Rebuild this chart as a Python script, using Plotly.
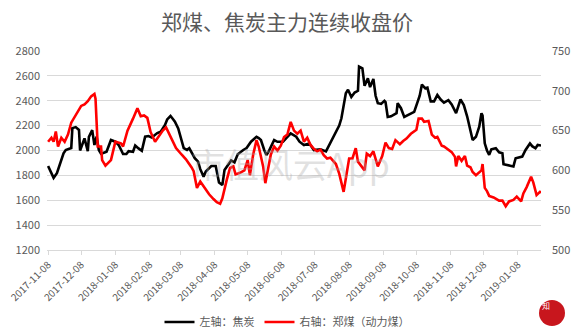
import plotly.graph_objects as go

title_text = "郑煤、焦炭主力连续收盘价"
coke_name = "左轴：焦炭"
coal_name = "右轴：郑煤（动力煤）"

coke_dates = [
    "2017-11-08", "2017-11-11", "2017-11-13", "2017-11-16", "2017-11-19", "2017-11-22", "2017-11-24", "2017-11-27",
    "2017-11-29", "2017-11-30", "2017-12-03", "2017-12-06", "2017-12-07", "2017-12-11", "2017-12-14", "2017-12-15",
    "2017-12-18", "2017-12-20", "2017-12-22", "2017-12-24", "2017-12-26", "2017-12-28", "2017-12-31", "2018-01-04",
    "2018-01-08", "2018-01-11", "2018-01-15", "2018-01-18", "2018-01-20", "2018-01-24", "2018-01-26", "2018-01-29",
    "2018-02-01", "2018-02-04", "2018-02-07", "2018-02-10", "2018-02-15", "2018-02-18", "2018-02-22", "2018-02-24",
    "2018-02-27", "2018-03-01", "2018-03-03", "2018-03-06", "2018-03-09", "2018-03-11", "2018-03-14", "2018-03-16",
    "2018-03-19", "2018-03-21", "2018-03-24", "2018-03-26", "2018-03-29", "2018-03-31", "2018-04-05", "2018-04-09",
    "2018-04-12", "2018-04-15", "2018-04-17", "2018-04-20", "2018-04-23", "2018-04-26", "2018-04-29", "2018-05-04",
    "2018-05-07", "2018-05-11", "2018-05-16", "2018-05-18", "2018-05-20", "2018-05-23", "2018-05-25", "2018-05-27",
    "2018-06-01", "2018-06-04", "2018-06-09", "2018-06-12", "2018-06-16", "2018-06-21", "2018-06-24", "2018-06-28",
    "2018-07-03", "2018-07-07", "2018-07-13", "2018-07-18", "2018-07-21", "2018-07-25", "2018-07-30", "2018-08-01",
    "2018-08-03", "2018-08-05", "2018-08-07", "2018-08-10", "2018-08-13", "2018-08-16", "2018-08-17", "2018-08-20",
    "2018-08-22", "2018-08-25", "2018-08-27", "2018-08-30", "2018-09-01", "2018-09-03", "2018-09-06", "2018-09-09",
    "2018-09-10", "2018-09-12", "2018-09-15", "2018-09-20", "2018-09-21", "2018-09-24", "2018-09-27", "2018-10-01",
    "2018-10-06", "2018-10-11", "2018-10-13", "2018-10-16", "2018-10-18", "2018-10-21", "2018-10-24", "2018-10-27",
    "2018-10-30", "2018-11-02", "2018-11-06", "2018-11-09", "2018-11-13", "2018-11-17", "2018-11-20", "2018-11-23",
    "2018-11-26", "2018-11-28", "2018-12-01", "2018-12-04", "2018-12-06", "2018-12-07", "2018-12-09", "2018-12-11",
    "2018-12-13", "2018-12-15", "2018-12-19", "2018-12-22", "2018-12-25", "2018-12-26", "2019-01-01", "2019-01-04",
    "2019-01-06", "2019-01-09", "2019-01-12", "2019-01-15", "2019-01-19", "2019-01-21", "2019-01-24", "2019-01-26",
    "2019-01-29",
]
coke_values = [
    1875, 1820, 1780, 1817, 1897, 1977, 2004, 2012,
    2020, 2180, 2188, 2165, 2000, 2097, 1995, 2110,
    2164, 2044, 2111, 2004, 1975, 1980, 1990, 2085,
    2071, 2044, 1972, 1972, 1995, 1990, 2040, 2017,
    1998, 2111, 2116, 2105, 2140, 2150, 2205, 2250,
    2277, 2255, 2232, 2178, 2085, 2020, 2005, 2018,
    1970, 1938, 1911, 1850, 1790, 1831, 1875, 1875,
    1743, 1722, 1844, 1880, 1920, 1905, 1970, 2004,
    2020, 2071, 2110, 2100, 2084, 2004, 1964, 1991,
    2084, 2070, 2071, 2100, 2138, 2111, 2071, 2044,
    2057, 2004, 2010, 1993, 2044, 2120, 2200, 2259,
    2380, 2460, 2488, 2430, 2466, 2480, 2675, 2660,
    2520, 2580, 2510, 2575, 2440, 2380, 2375, 2400,
    2390, 2270, 2275, 2300, 2380, 2340, 2270, 2285,
    2310, 2440, 2530, 2500, 2505, 2395, 2395, 2446,
    2410, 2385, 2405, 2370, 2300, 2410, 2365, 2275,
    2165, 2085, 2110, 2192, 2300, 2280, 2058, 2000,
    1965, 2010, 2018, 1985, 1978, 1890, 1878, 1872,
    1938, 1945, 1951, 2004, 2057, 2035, 2018, 2044,
    2040,
]

coal_dates = [
    "2017-11-08", "2017-11-11", "2017-11-13", "2017-11-15", "2017-11-17", "2017-11-20", "2017-11-23", "2017-11-26",
    "2017-11-29", "2017-12-02", "2017-12-05", "2017-12-08", "2017-12-11", "2017-12-14", "2017-12-17", "2017-12-20",
    "2017-12-21", "2017-12-23", "2017-12-26", "2017-12-27", "2017-12-30", "2018-01-04", "2018-01-08", "2018-01-13",
    "2018-01-15", "2018-01-19", "2018-01-24", "2018-01-28", "2018-01-31", "2018-02-03", "2018-02-06", "2018-02-09",
    "2018-02-13", "2018-02-17", "2018-02-20", "2018-02-23", "2018-02-26", "2018-02-28", "2018-03-04", "2018-03-09",
    "2018-03-13", "2018-03-18", "2018-03-20", "2018-03-23", "2018-03-26", "2018-03-29", "2018-04-03", "2018-04-07",
    "2018-04-10", "2018-04-13", "2018-04-15", "2018-04-19", "2018-04-22", "2018-04-25", "2018-04-27", "2018-05-01",
    "2018-05-05", "2018-05-08", "2018-05-10", "2018-05-13", "2018-05-16", "2018-05-18", "2018-05-22", "2018-05-24",
    "2018-05-26", "2018-05-29", "2018-06-01", "2018-06-04", "2018-06-07", "2018-06-10", "2018-06-13", "2018-06-16",
    "2018-06-19", "2018-06-22", "2018-06-25", "2018-06-28", "2018-07-01", "2018-07-04", "2018-07-07", "2018-07-10",
    "2018-07-13", "2018-07-16", "2018-07-19", "2018-07-22", "2018-07-27", "2018-07-30", "2018-08-03", "2018-08-05",
    "2018-08-08", "2018-08-11", "2018-08-14", "2018-08-16", "2018-08-19", "2018-08-22", "2018-08-24", "2018-08-27",
    "2018-08-30", "2018-09-03", "2018-09-07", "2018-09-10", "2018-09-13", "2018-09-16", "2018-09-19", "2018-09-23",
    "2018-09-26", "2018-09-29", "2018-10-03", "2018-10-08", "2018-10-10", "2018-10-13", "2018-10-15", "2018-10-19",
    "2018-10-22", "2018-10-25", "2018-10-27", "2018-10-31", "2018-11-02", "2018-11-06", "2018-11-09", "2018-11-12",
    "2018-11-13", "2018-11-15", "2018-11-18", "2018-11-21", "2018-11-23", "2018-11-26", "2018-11-28", "2018-12-01",
    "2018-12-04", "2018-12-06", "2018-12-07", "2018-12-09", "2018-12-11", "2018-12-13", "2018-12-17", "2018-12-22",
    "2018-12-25", "2018-12-28", "2018-12-31", "2019-01-04", "2019-01-07", "2019-01-11", "2019-01-13", "2019-01-16",
    "2019-01-20", "2019-01-22", "2019-01-25", "2019-01-28", "2019-01-29",
]
coal_values = [
    636, 641, 636, 649, 630, 641, 636, 645,
    660, 667, 674, 681, 683, 687, 693, 696,
    690, 630, 630, 613, 606, 613, 636, 634,
    630, 650, 665, 678, 668, 669, 666, 648,
    636, 645, 650, 654, 645, 640, 628, 620,
    614, 604, 599, 578, 586, 580, 570, 564,
    560, 558, 565, 588, 603, 605, 595, 597,
    600, 613, 594, 620, 638, 630, 605, 584,
    600, 620, 630, 625, 631, 642, 645, 661,
    650, 646, 650, 636, 641, 632, 627, 624,
    626, 619, 615, 616, 608, 596, 573, 590,
    615, 615, 628, 611, 605, 600, 621, 618,
    624, 605, 618, 635, 628, 627, 638, 633,
    637, 640, 646, 651, 665, 665, 661, 662,
    645, 641, 642, 631, 630, 626, 623, 617,
    605, 618, 612, 618, 606, 604, 598, 594,
    598, 600, 608, 578, 574, 568, 566, 562,
    562, 555, 561, 563, 567, 561, 571, 579,
    592, 585, 569, 573, 572,
]

month_ticks = [
    "2017-11-08", "2017-12-08", "2018-01-08", "2018-02-08", "2018-03-08", "2018-04-08", "2018-05-08",
    "2018-06-08", "2018-07-08", "2018-08-08", "2018-09-08", "2018-10-08", "2018-11-08", "2018-12-08",
    "2019-01-08",
]
left_ticks = [1200, 1400, 1600, 1800, 2000, 2200, 2400, 2600, 2800]
right_ticks = [500, 550, 600, 650, 700, 750]

label_color = "#595959"
grid_color = "#d9d9d9"
font_family = "Noto Sans CJK SC, Noto Sans, sans-serif"

fig = go.Figure()
fig.add_trace(go.Scatter(
    x=coke_dates, y=coke_values, name=coke_name, mode="lines",
    line=dict(color="#000000", width=2.6), yaxis="y",
))
fig.add_trace(go.Scatter(
    x=coal_dates, y=coal_values, name=coal_name, mode="lines",
    line=dict(color="#ff0000", width=2.6), yaxis="y2",
))

fig.update_layout(
    width=575, height=336,
    margin=dict(l=47, r=34, t=51, b=86, autoexpand=False),
    paper_bgcolor="white", plot_bgcolor="white",
    font=dict(family=font_family, color=label_color, size=11),
    title=dict(text=title_text, x=287 / 575, xanchor="center", xref="container",
               y=1 - 23 / 336, yanchor="middle", yref="container",
               font=dict(size=21, color=label_color, family=font_family)),
    xaxis=dict(
        type="date", range=["2017-11-07", "2019-01-29"],
        tickvals=month_ticks, ticktext=month_ticks, tickangle=-45,
        tickfont=dict(size=10, color=label_color),
        showgrid=False, showline=True, linecolor=grid_color, linewidth=1,
        ticks="outside", ticklen=4, tickcolor=grid_color, zeroline=False,
        automargin=False,
    ),
    yaxis=dict(
        range=[1200, 2800], tickvals=left_ticks, showgrid=True, gridcolor=grid_color,
        gridwidth=1, zeroline=False, showline=False, tickfont=dict(size=11, color=label_color),
        ticks="", ticklabelstandoff=6, automargin=False,
    ),
    yaxis2=dict(
        range=[500, 750], tickvals=right_ticks, overlaying="y", side="right",
        showgrid=False, zeroline=False, showline=False,
        tickfont=dict(size=11, color=label_color), ticks="", ticklabelstandoff=10,
        automargin=False,
    ),
    legend=dict(orientation="h", x=(287 - 47) / 494, xanchor="center", y=(250 - 322) / 199,
                yanchor="middle", bgcolor="rgba(0,0,0,0)",
                font=dict(size=11, color=label_color), traceorder="normal"),
    showlegend=True,
)

# watermark
fig.add_annotation(text="市值风云App", xref="paper", yref="paper", x=0.492, y=0.30,
                   showarrow=False, font=dict(size=34, color="rgba(170,170,170,0.35)", family=font_family))

# logo
fig.add_shape(type="circle", xref="paper", yref="paper",
              x0=(539 - 47) / 494, x1=(565 - 47) / 494, y0=(250 - 326) / 199, y1=(250 - 300) / 199,
              fillcolor="#c8161d", line=dict(color="#c8161d", width=0))
fig.add_annotation(text="風<br>知", xref="paper", yref="paper", x=(552 - 47) / 494, y=(250 - 313) / 199,
                   showarrow=False, font=dict(size=8, color="white", family=font_family))

fig.write_html("out.html")
